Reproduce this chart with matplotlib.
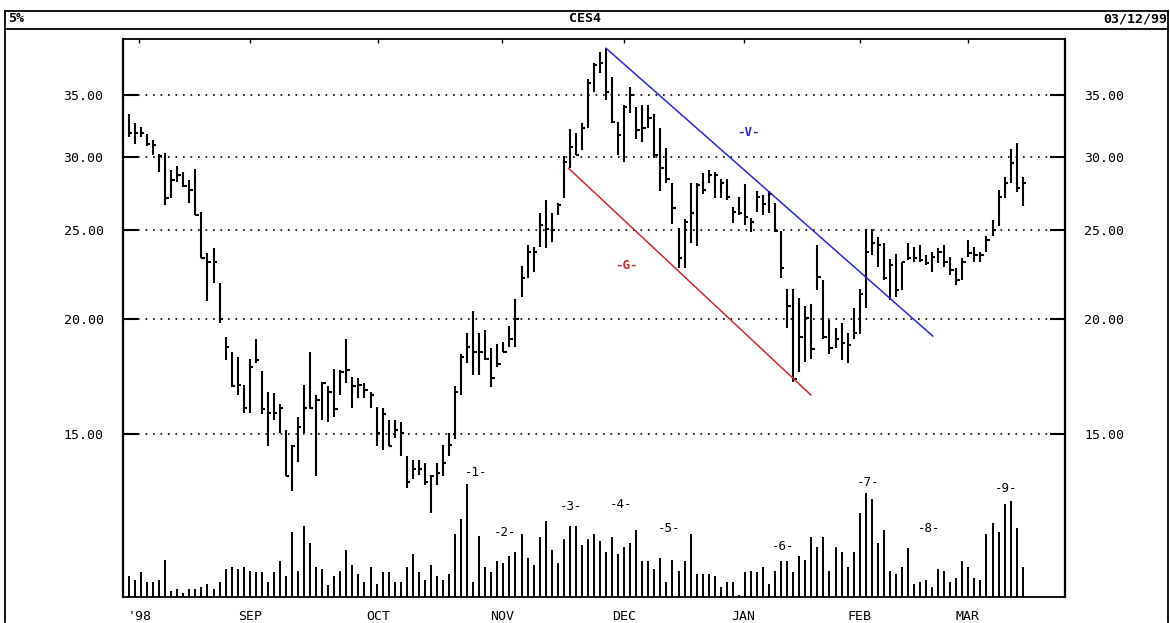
import matplotlib
matplotlib.use('Agg')
import matplotlib.pyplot as plt
from matplotlib.lines import Line2D
from matplotlib.ticker import FixedLocator, NullLocator

# ---------------- data ----------------
high = [33.4, 32.6, 32.3, 31.75, 31.3, 30.2, 30.3, 29.0, 29.3, 28.9,
        28.3, 29.1, 26.1, 23.6, 23.9, 21.9, 19.1, 18.4, 18.2, 16.95,
        18.1, 19.0, 17.55, 16.65, 16.6, 16.15, 15.15, 14.6, 15.65, 16.95,
        18.4, 16.55, 17.1, 16.9, 17.65, 17.6, 19.0, 17.3, 17.25, 17.05,
        16.65, 16.05, 16.0, 15.55, 15.55, 15.45, 14.2, 14.05, 14.05, 13.95,
        13.55, 13.95, 14.6, 15.05, 16.9, 18.3, 19.3, 20.4, 19.3, 19.45,
        18.6, 18.8, 18.9, 19.65, 21.0, 22.8, 24.05, 23.95, 26.05, 26.9,
        26.05, 26.7, 30.05, 32.15, 31.8, 32.6, 36.4, 37.9, 39.0, 39.35,
        36.6, 32.7, 34.1, 35.7, 33.95, 34.1, 34.1, 33.35, 32.2, 30.65,
        28.1, 25.1, 25.65, 28.1, 28.1, 28.8, 29.0, 28.9, 28.35, 28.35,
        26.45, 27.1, 28.0, 25.75, 27.55, 27.25, 27.55, 26.7, 24.9, 21.55,
        21.55, 21.05, 20.65, 20.75, 24.05, 22.05, 19.95, 19.55, 19.8, 19.3,
        20.55, 21.55, 25.05, 25.05, 24.55, 24.2, 23.25, 23.5, 23.05, 24.2,
        23.95, 24.05, 23.45, 23.65, 23.9, 24.05, 23.35, 22.7, 23.3, 24.35,
        23.95, 23.65, 24.6, 25.6, 27.6, 28.5, 30.6, 31.05, 28.5]

low = [31.5, 31.0, 31.5, 30.8, 30.1, 28.9, 26.6, 27.05, 28.15, 27.8,
       26.7, 25.9, 23.3, 20.9, 21.9, 19.8, 18.05, 16.85, 16.55, 15.8,
       15.8, 17.9, 15.75, 14.55, 15.55, 15.05, 13.5, 13.0, 14.0, 15.05,
       15.95, 13.5, 15.55, 15.45, 15.65, 16.55, 17.05, 16.0, 16.4, 16.4,
       16.0, 14.55, 14.4, 14.55, 14.85, 14.2, 13.1, 13.4, 13.55, 13.2,
       12.3, 13.2, 13.5, 14.2, 14.8, 16.55, 17.9, 17.4, 17.4, 18.05,
       16.85, 17.75, 18.4, 18.65, 18.65, 21.1, 22.15, 22.5, 23.95, 23.9,
       24.25, 25.9, 27.05, 29.15, 30.1, 30.5, 32.2, 35.25, 37.0, 34.55,
       32.6, 30.1, 29.6, 33.45, 31.35, 31.1, 32.2, 29.9, 27.55, 28.1,
       25.35, 22.7, 22.7, 24.2, 24.0, 27.35, 28.1, 27.05, 27.05, 26.9,
       25.4, 25.9, 25.3, 24.85, 26.15, 25.9, 26.05, 24.85, 22.15, 19.55,
       17.1, 17.5, 17.95, 18.1, 21.5, 19.0, 18.3, 18.6, 18.05, 17.9,
       19.0, 19.25, 20.55, 23.45, 22.75, 22.05, 20.95, 21.1, 21.5, 23.15,
       23.05, 23.05, 22.9, 22.5, 23.0, 22.75, 22.3, 21.75, 22.05, 23.35,
       23.05, 23.05, 23.65, 24.6, 25.25, 27.05, 28.1, 27.45, 26.5]

close = [31.8, 31.8, 31.8, 31.0, 30.9, 30.05, 27.05, 28.3, 28.65, 27.9,
         27.6, 25.9, 23.3, 23.05, 23.05, 20.0, 18.65, 16.9, 16.95, 16.0,
         17.75, 18.05, 15.95, 15.8, 15.8, 16.0, 13.5, 14.55, 15.25, 16.0,
         16.0, 16.35, 17.05, 16.65, 15.95, 17.5, 17.6, 16.9, 16.95, 16.75,
         16.55, 15.05, 15.75, 14.55, 15.15, 15.05, 13.3, 13.75, 13.75, 13.3,
         13.5, 13.6, 13.95, 14.6, 16.65, 18.2, 18.65, 18.4, 18.4, 18.1,
         17.25, 17.85, 18.4, 19.0, 20.0, 22.15, 23.65, 23.65, 25.3, 25.05,
         25.0, 26.6, 29.6, 30.7, 30.1, 32.2, 36.05, 37.7, 37.95, 35.25,
         32.7, 31.65, 33.95, 35.0, 32.1, 32.2, 33.05, 30.1, 29.15, 28.35,
         26.4, 23.3, 25.5, 26.05, 27.95, 27.6, 28.65, 28.65, 28.1, 27.1,
         26.15, 26.05, 25.8, 25.5, 27.1, 26.65, 27.35, 24.9, 22.7, 20.65,
         17.2, 19.1, 20.05, 18.55, 22.2, 19.1, 18.6, 19.0, 18.85, 18.75,
         19.3, 21.3, 23.65, 24.2, 24.05, 22.15, 22.9, 21.5, 23.05, 23.3,
         23.3, 23.15, 23.0, 23.35, 23.65, 23.05, 22.6, 22.05, 23.05, 23.6,
         23.45, 23.45, 24.35, 25.0, 27.1, 28.1, 29.5, 27.75, 28.1]

volume = [21, 17, 25, 15, 15, 17, 37, 6, 8, 4, 8, 8, 10, 13, 8, 15, 28, 30, 28, 30,
          26, 25, 25, 15, 25, 36, 21, 65, 26, 71, 54, 30, 28, 12, 21, 26, 47, 32, 23, 15,
          30, 13, 25, 25, 15, 15, 30, 43, 25, 17, 32, 21, 17, 23, 63, 78, 113, 15, 61, 30,
          25, 36, 34, 41, 45, 63, 39, 32, 60, 76, 47, 34, 58, 71, 71, 52, 58, 63,
          56, 45, 60, 43, 50, 54, 67, 36, 36, 28, 39, 15, 37, 26, 36, 63, 23, 23, 23, 21,
          10, 15, 15, 2, 25, 26, 25, 30, 13, 26, 36, 36, 25, 41, 37, 60, 50, 60, 26, 50,
          45, 30, 45, 84, 104, 98, 54, 67, 26, 23, 30, 49, 13, 15, 17, 10, 28, 26, 15, 19,
          36, 30, 19, 17, 63, 74, 65, 93, 96, 69, 30]

month_labels = ["'98", "SEP", "OCT", "NOV", "DEC", "JAN", "FEB", "MAR"]
month_pos = [1.7, 20.0, 41.2, 61.8, 82.0, 101.8, 121.0, 138.9]
price_ticks = [15, 20, 25, 30, 35]

# trend lines (bar index, price)
trend_v_x = [79.0, 133.1]
trend_v_y = [39.34, 19.16]
trend_g_x = [72.8, 112.9]
trend_g_y = [29.14, 16.54]

# volume markers: label, bar index, volume level
vol_marks = ["-1-", "-2-", "-3-", "-4-", "-5-", "-6-", "-7-", "-8-", "-9-"]
vol_mark_x = [57.5, 62.3, 73.2, 81.5, 89.4, 108.3, 122.4, 132.5, 145.2]
vol_mark_y = [124, 65, 91, 92, 69, 51, 115, 68, 108]

# ---------------- figure ----------------
W, H = 1170, 623
fig = plt.figure(figsize=(W / 100, H / 100), dpi=100)
FONT = 'DejaVu Sans Mono'
BLUE = '#2b2bcc'
RED = '#cc2b2b'

def fx(px):
    return px / W

def fy(py):
    return 1 - py / H

left, right, top, bottom = 123, 1065, 39, 597
rect = [fx(left), fy(bottom), fx(right) - fx(left), fy(top) - fy(bottom)]

ax = fig.add_axes(rect)
ax.set_yscale('log')
ax.set_ylim(9.98, 40.26)
ax.set_xlim(-0.99, 155.0)

n = len(high)
xs = list(range(n))
ax.vlines(xs, low, high, color='black', lw=1.5, zorder=3)
ax.hlines(close, [x for x in xs], [x + 0.55 for x in xs], color='black', lw=1.5, zorder=3)

ax.plot(trend_v_x, trend_v_y, color=BLUE, lw=1.1, zorder=4)
ax.plot(trend_g_x, trend_g_y, color=RED, lw=1.1, zorder=4)
ax.text(102.5, 31.83, "-V-", color=BLUE, ha='center', va='center', fontsize=9,
        family=FONT, fontweight='bold')
ax.text(82.3, 22.83, "-G-", color=RED, ha='center', va='center', fontsize=9,
        family=FONT, fontweight='bold')

ax.yaxis.set_major_locator(FixedLocator(price_ticks))
ax.yaxis.set_minor_locator(NullLocator())
ax.set_yticklabels([f"{v:.2f}" for v in price_ticks])
ax.tick_params(axis='y', which='major', direction='in', length=11, width=1.5,
               left=True, right=True, labelleft=True, labelright=True,
               pad=14, labelsize=9.5)
for lab in ax.get_yticklabels():
    lab.set_family(FONT)
ax.yaxis.grid(True, which='major', color='black', lw=1.2, linestyle=(0, (1, 3.5)))
ax.set_axisbelow(True)

ax.set_xticks(month_pos)
ax.set_xticklabels(month_labels)
ax.tick_params(axis='x', which='major', bottom=False, top=True, direction='in',
               length=3, width=1, labelbottom=True, labeltop=False, pad=9,
               labelsize=9.5)
for lab in ax.get_xticklabels():
    lab.set_family(FONT)
ax.xaxis.set_minor_locator(NullLocator())

for s in ['left', 'right']:
    ax.spines[s].set_linewidth(1.6)
for s in ['top', 'bottom']:
    ax.spines[s].set_linewidth(1.3)

# volume overlay
axv = fig.add_axes(rect)
axv.set_xlim(ax.get_xlim())
axv.set_ylim(0, 558)
axv.axis('off')
axv.patch.set_alpha(0)
axv.vlines(xs, 0, volume, color='black', lw=1.4)
for s, x, y in zip(vol_marks, vol_mark_x, vol_mark_y):
    axv.text(x, y, s, ha='center', va='center', fontsize=9, family=FONT)

# header and frame
fig.text(fx(8), fy(19), "5%", ha='left', va='center', fontsize=9.5, family=FONT,
         fontweight='bold')
fig.text(fx(585), fy(19), "CES4", ha='center', va='center', fontsize=9.5, family=FONT,
         fontweight='bold')
fig.text(fx(1167), fy(19), "03/12/99", ha='right', va='center', fontsize=9.5,
         family=FONT, fontweight='bold')

frame_kw = dict(color='black', lw=1.3, transform=fig.transFigure)
fig.add_artist(Line2D([fx(5), fx(1168)], [fy(11), fy(11)], **frame_kw))
fig.add_artist(Line2D([fx(5), fx(1168)], [fy(29), fy(29)], **frame_kw))
fig.add_artist(Line2D([fx(5), fx(5)], [fy(11), fy(622)], **frame_kw))
fig.add_artist(Line2D([fx(1168), fx(1168)], [fy(11), fy(622)], **frame_kw))

fig.savefig('out.png', dpi=100)
